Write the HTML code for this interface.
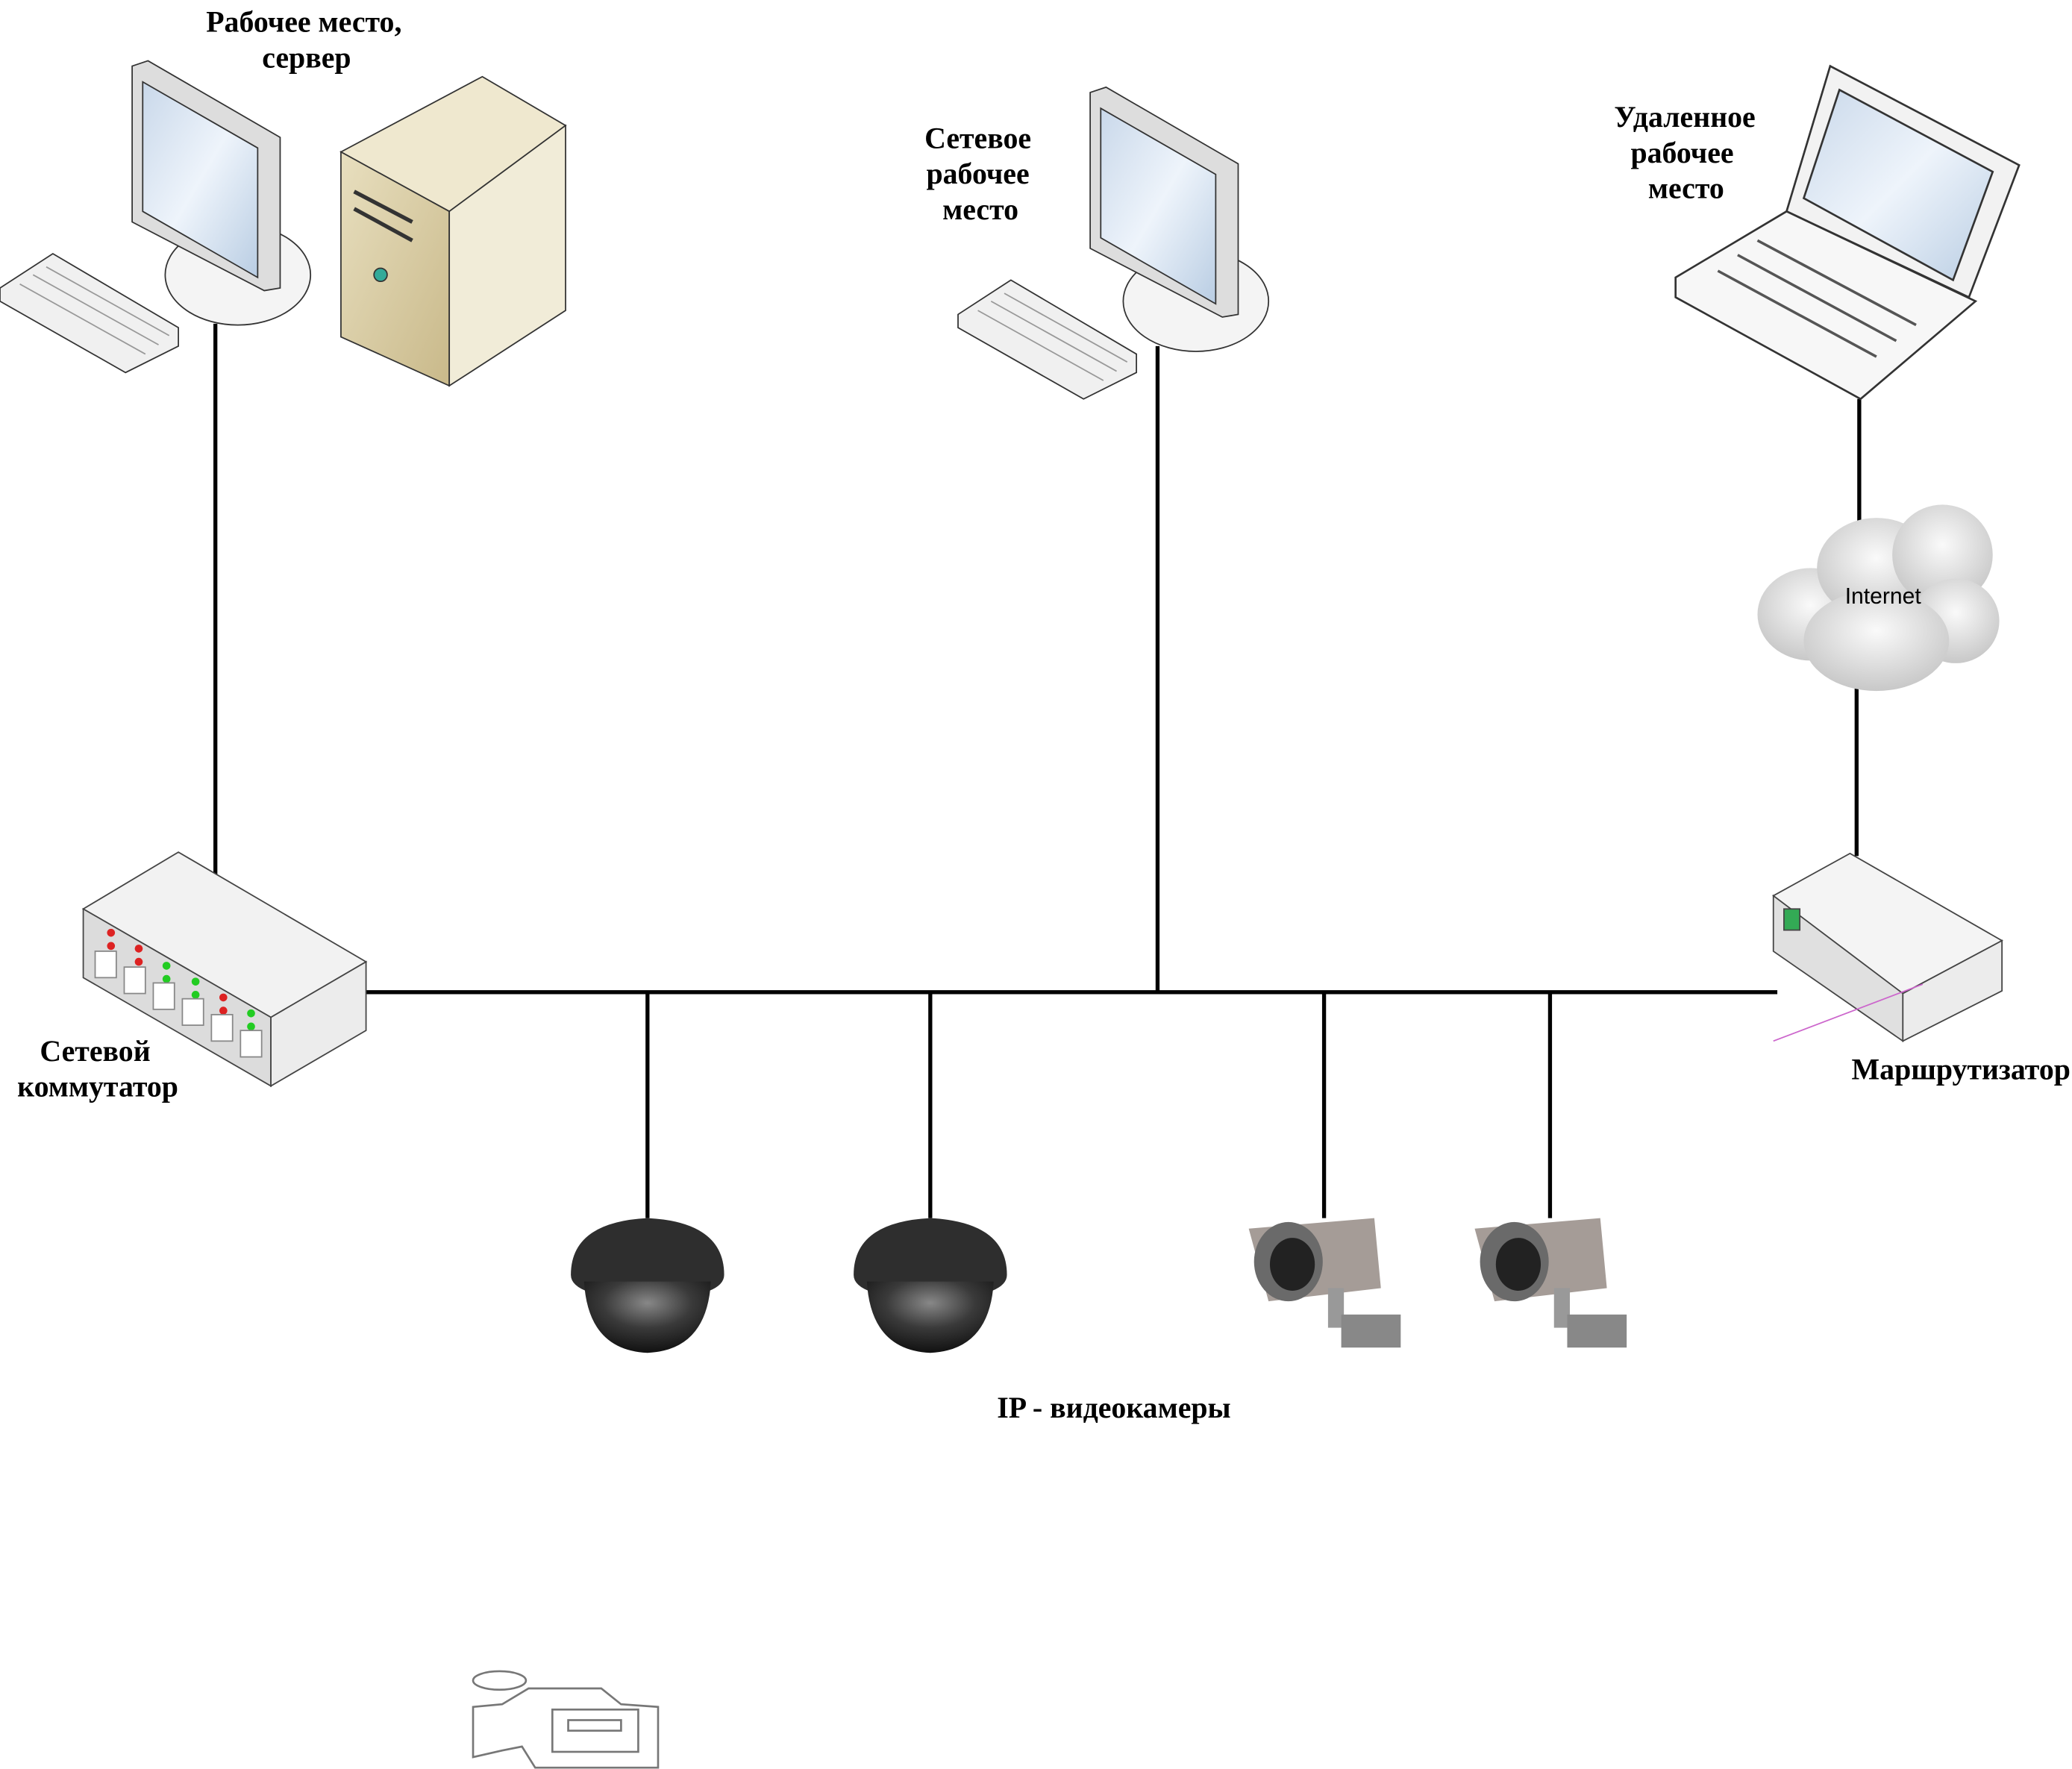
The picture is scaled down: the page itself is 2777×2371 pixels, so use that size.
<!DOCTYPE html>
<html><head><meta charset="utf-8"><style>
html,body{margin:0;padding:0;background:#fff;}
svg{display:block;}
.t{font-family:"Liberation Serif",serif;font-weight:bold;font-size:22.5px;fill:#000;}
</style></head><body>
<svg width="2777" height="2371" viewBox="0 0 1568 1339" preserveAspectRatio="none" xmlns="http://www.w3.org/2000/svg">
<defs>
<linearGradient id="scr" x1="0" y1="0" x2="1" y2="1"><stop offset="0" stop-color="#c9d8ea"/><stop offset="0.5" stop-color="#eef4fb"/><stop offset="1" stop-color="#b9cde3"/></linearGradient>
<linearGradient id="beige" x1="0" y1="0" x2="1" y2="1"><stop offset="0" stop-color="#e8dfbf"/><stop offset="1" stop-color="#c9b98a"/></linearGradient>
<radialGradient id="dome" cx="0.5" cy="0.3" r="0.7"><stop offset="0" stop-color="#888"/><stop offset="0.5" stop-color="#3a3a3a"/><stop offset="1" stop-color="#111"/></radialGradient>
<radialGradient id="cl" cx="0.5" cy="0.4" r="0.6"><stop offset="0" stop-color="#fafafa"/><stop offset="1" stop-color="#c8c8c8"/></radialGradient>
</defs>
<g stroke="#000" stroke-width="3" fill="none">
<line x1="275" y1="751" x2="1345" y2="751"/>
<line x1="163" y1="245" x2="163" y2="662"/>
<line x1="876" y1="262" x2="876" y2="751"/>
<line x1="1407" y1="302" x2="1407" y2="405"/>
<line x1="1405" y1="520" x2="1405" y2="648"/>
<line x1="490" y1="751" x2="490" y2="922"/>
<line x1="704" y1="751" x2="704" y2="922"/>
<line x1="1002" y1="751" x2="1002" y2="922"/>
<line x1="1173" y1="751" x2="1173" y2="922"/>
</g>
<!-- workstation 1 -->
<g stroke="#333" stroke-width="1">
<ellipse cx="180" cy="208" rx="55" ry="38" fill="#f4f4f4"/>
<polygon points="100,50 112,46 212,104 212,218 200,220 100,168" fill="#ddd"/>
<polygon points="108,62 195,112 195,210 108,160" fill="url(#scr)"/>
<polygon points="0,218 40,192 135,248 135,262 95,282 0,228" fill="#f0f0f0"/>
<g stroke="#999"><line x1="15" y1="215" x2="110" y2="268"/><line x1="25" y1="208" x2="120" y2="261"/><line x1="35" y1="202" x2="128" y2="254"/></g>
<polygon points="258,115 365,58 428,95 340,160" fill="#efe8cf"/>
<polygon points="258,115 340,160 340,292 258,255" fill="url(#beige)"/>
<polygon points="340,160 428,95 428,235 340,292" fill="#f1ecd8"/>
<circle cx="288" cy="208" r="5" fill="#3a9" />
<line x1="268" y1="145" x2="312" y2="168" stroke-width="3"/>
<line x1="268" y1="158" x2="312" y2="182" stroke-width="3"/>
</g>
<!-- workstation 2 -->
<g stroke="#333" stroke-width="1" transform="translate(725,20)">
<ellipse cx="180" cy="208" rx="55" ry="38" fill="#f4f4f4"/>
<polygon points="100,50 112,46 212,104 212,218 200,220 100,168" fill="#ddd"/>
<polygon points="108,62 195,112 195,210 108,160" fill="url(#scr)"/>
<polygon points="0,218 40,192 135,248 135,262 95,282 0,228" fill="#f0f0f0"/>
<g stroke="#999"><line x1="15" y1="215" x2="110" y2="268"/><line x1="25" y1="208" x2="120" y2="261"/><line x1="35" y1="202" x2="128" y2="254"/></g>
</g>
<!-- laptop -->
<g stroke="#333" stroke-width="1.5">
<polygon points="1352,160 1385,50 1528,125 1490,225" fill="#f2f2f2"/>
<polygon points="1365,150 1392,68 1508,130 1478,212" fill="url(#scr)"/>
<polygon points="1268,210 1352,160 1495,228 1408,302 1268,225" fill="#f7f7f7"/>
<g stroke="#555" stroke-width="2">
<line x1="1300" y1="205" x2="1420" y2="270"/><line x1="1315" y1="193" x2="1435" y2="258"/><line x1="1330" y1="182" x2="1450" y2="246"/>
</g>
</g>
<!-- cloud -->
<g fill="url(#cl)">
<ellipse cx="1370" cy="465" rx="40" ry="35"/><ellipse cx="1420" cy="430" rx="45" ry="38"/><ellipse cx="1470" cy="420" rx="38" ry="38"/>
<ellipse cx="1480" cy="470" rx="33" ry="32"/><ellipse cx="1420" cy="485" rx="55" ry="38"/>
</g>
<text x="1425" y="457" font-family="Liberation Sans,sans-serif" font-size="17" text-anchor="middle">Internet</text>
<!-- switch -->
<g stroke="#444" stroke-width="1">
<polygon points="63,688 135,645 277,728 205,770" fill="#f2f2f2"/>
<polygon points="63,688 205,770 205,822 63,740" fill="#dcdcdc"/>
<polygon points="205,770 277,728 277,780 205,822" fill="#ececec"/>
</g>
<g fill="#d22"><circle cx="84" cy="706" r="3"/><circle cx="84" cy="716" r="3"/><circle cx="105" cy="718" r="3"/><circle cx="105" cy="728" r="3"/><circle cx="169" cy="755" r="3"/><circle cx="169" cy="765" r="3"/></g>
<g fill="#2c2"><circle cx="126" cy="731" r="3"/><circle cx="126" cy="741" r="3"/><circle cx="148" cy="743" r="3"/><circle cx="148" cy="753" r="3"/><circle cx="190" cy="767" r="3"/><circle cx="190" cy="777" r="3"/></g>
<g fill="#fff" stroke="#888"><rect x="72" y="720" width="16" height="20"/><rect x="94" y="732" width="16" height="20"/><rect x="116" y="744" width="16" height="20"/><rect x="138" y="756" width="16" height="20"/><rect x="160" y="768" width="16" height="20"/><rect x="182" y="780" width="16" height="20"/></g>
<!-- router -->
<g stroke="#444" stroke-width="1">
<polygon points="1342,678 1400,646 1515,712 1440,752" fill="#f4f4f4"/>
<polygon points="1342,678 1440,752 1440,788 1342,720" fill="#e0e0e0"/>
<polygon points="1440,752 1515,712 1515,750 1440,788" fill="#ececec"/>
<rect x="1350" y="688" width="12" height="16" fill="#3a5"/>
</g>
<line x1="1342" y1="788" x2="1455" y2="745" stroke="#c6c" stroke-width="1"/>
<!-- domes -->
<g>
<path d="M432,965 Q432,925 490,922 Q548,925 548,965 Q548,982 490,984 Q432,982 432,965Z" fill="#2e2e2e"/>
<path d="M442,970 Q445,1022 490,1024 Q535,1022 538,970Z" fill="url(#dome)"/>
<path d="M646,965 Q646,925 704,922 Q762,925 762,965 Q762,982 704,984 Q646,982 646,965Z" fill="#2e2e2e"/>
<path d="M656,970 Q659,1022 704,1024 Q749,1022 752,970Z" fill="url(#dome)"/>
</g>
<!-- bullet cams -->
<g>
<polygon points="945,930 1040,922 1045,975 960,985" fill="#a59c97"/><ellipse cx="975" cy="955" rx="26" ry="30" fill="#6a6a6a"/><ellipse cx="978" cy="957" rx="17" ry="20" fill="#222"/>
<rect x="1005" y="975" width="12" height="30" fill="#999"/><rect x="1015" y="995" width="45" height="25" fill="#888"/>
<polygon points="1116,930 1211,922 1216,975 1131,985" fill="#a59c97"/><ellipse cx="1146" cy="955" rx="26" ry="30" fill="#6a6a6a"/><ellipse cx="1149" cy="957" rx="17" ry="20" fill="#222"/>
<rect x="1176" y="975" width="12" height="30" fill="#999"/><rect x="1186" y="995" width="45" height="25" fill="#888"/>
</g>
<!-- camcorder outline -->
<g fill="none" stroke="#777" stroke-width="1.5">
<ellipse cx="378" cy="1272" rx="20" ry="7"/>
<polygon points="380,1290 400,1278 455,1278 470,1290 498,1292 498,1338 405,1338 395,1322 380,1325 358,1330 358,1292"/>
<rect x="418" y="1294" width="65" height="32"/><rect x="430" y="1302" width="40" height="8"/>
</g>
<!-- labels -->
<g class="t" text-anchor="middle">
<text x="230" y="24">Рабочее место,</text><text x="232" y="51">сервер</text>
<text x="740" y="112">Сетевое</text><text x="740" y="139">рабочее</text><text x="742" y="166">место</text>
<text x="1275" y="96">Удаленное</text><text x="1273" y="123">рабочее</text><text x="1276" y="150">место</text>
<text x="72" y="803">Сетевой</text><text x="74" y="830">коммутатор</text>
<text x="1484" y="817">Маршрутизатор</text>
<text x="843" y="1073">IP - видеокамеры</text>
</g>
</svg>
</body></html>
